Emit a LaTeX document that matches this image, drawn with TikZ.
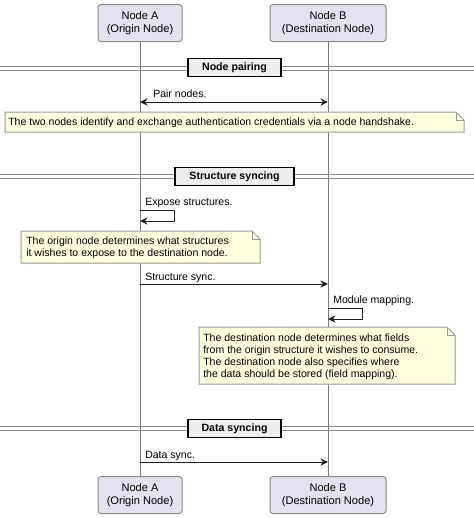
\documentclass[tikz,border=0pt]{standalone}
\usepackage{fontspec}
\setmainfont{Liberation Sans}
\usetikzlibrary{arrows.meta}
\definecolor{partfill}{HTML}{E2E2F0}
\definecolor{partborder}{HTML}{8C8C8C}
\definecolor{lifecol}{HTML}{7A7A7A}
\definecolor{notefill}{HTML}{FEFFDD}
\definecolor{noteborder}{HTML}{9A9A9A}
\definecolor{divfill}{HTML}{EEEEEE}
\definecolor{divline}{HTML}{8A8A8A}
\definecolor{msgcol}{HTML}{1E1E1E}
\begin{document}
\begin{tikzpicture}[x=0.75pt,y=-0.75pt,
  every node/.style={font=\fontsize{7.9}{9}\selectfont, inner sep=0pt, text=black},
  participant/.style={draw=partborder, fill=partfill, line width=0.75pt, rounded corners=2.25pt,
    minimum width=#1, minimum height=27.75pt, align=center, font=\fontsize{8.3}{9.75}\selectfont},
  lifeline/.style={draw=lifecol, line width=0.75pt},
  divrule/.style={draw=divline, line width=0.75pt},
  divbox/.style={draw=black, fill=divfill, line width=1.3pt, minimum width=#1, minimum height=13.5pt,
    font=\fontsize{7.95}{9}\selectfont\bfseries},
  notebody/.style={draw=noteborder, fill=notefill, line width=0.75pt, line join=miter},
  notefold/.style={draw=noteborder, line width=0.75pt},
  notetext/.style={anchor=north west, align=left},
  tipstyle/.style={},
  msg/.style={draw=msgcol, line width=0.75pt, -{Stealth[length=5.6pt,width=5.4pt,inset=1.8pt]}},
  msgboth/.style={draw=msgcol, line width=0.75pt, {Stealth[length=5.6pt,width=5.4pt,inset=1.8pt]}-{Stealth[length=5.6pt,width=5.4pt,inset=1.8pt]}},
  msglabel/.style={anchor=base west}
]
\fill[white] (0,0) rectangle (474,518);
\useasboundingbox (0,0) rectangle (474,518);

% participants
\node[participant=63pt] (At) at (140,23) {Node A\\(Origin Node)};
\node[participant=87pt] (Bt) at (328,23) {Node B\\(Destination Node)};
\node[participant=63pt] (Ab) at (140,495) {Node A\\(Origin Node)};
\node[participant=87pt] (Bb) at (328,495) {Node B\\(Destination Node)};

% lifelines
\draw[lifeline] (At.south) -- (Ab.north);
\draw[lifeline] (Bt.south) -- (Bb.north);

% divider: Node pairing
\draw[divrule] (0,66) -- (474,66);
\draw[divrule] (0,70) -- (474,70);
\node[divbox=69.75pt] (d1) at (234.5,67.5) {Node pairing};

% Pair nodes
\coordinate (a1) at (140,102);
\coordinate (b1) at (328,102);
\draw[msgboth] (a1) -- (b1);
\node[msglabel] (l1) at (153,97.5) {Pair nodes.};

% note 1
\draw[notebody] (5,112) -- (456,112) -- (464,120) -- (464,132) -- (5,132) -- cycle;
\draw[notefold] (456,112) -- (456,120) -- (464,120);
\node[notetext] (n1) at (8,117.5) {The two nodes identify and exchange authentication credentials via a node handshake.};

% divider: Structure syncing
\draw[divrule] (0,174.5) -- (474,174.5);
\draw[divrule] (0,178.5) -- (474,178.5);
\node[divbox=89.25pt] (d2) at (234.5,176.5) {Structure syncing};

% Expose structures (self)
\coordinate (a2) at (140,210);
\coordinate (a3) at (140,221);
\draw[msg] (a2) -- (174,210) -- (174,221) -- (a3);
\node[msglabel] (l2) at (145,205.5) {Expose structures.};

% note 2
\draw[notebody] (21,231) -- (252,231) -- (260,239) -- (260,263) -- (21,263) -- cycle;
\draw[notefold] (252,231) -- (252,239) -- (260,239);
\node[notetext] (n2) at (26,236.5) {The origin node determines what structures\\it wishes to expose to the destination node.};

% Structure sync
\coordinate (a4) at (140,284);
\coordinate (b4) at (328,284);
\draw[msg] (a4) -- (b4);
\node[msglabel] (l3) at (145,280.5) {Structure sync.};

% Module mapping (self)
\coordinate (b5) at (328,308);
\coordinate (b6) at (328,319);
\draw[msg] (b5) -- (362,308) -- (362,319) -- (b6);
\node[msglabel] (l4) at (333,303.5) {Module mapping.};

% note 3
\draw[notebody] (199,327) -- (447,327) -- (455,335) -- (455,384) -- (199,384) -- cycle;
\draw[notefold] (447,327) -- (447,335) -- (455,335);
\node[notetext] (n3) at (203,333.5) {The destination node determines what fields\\from the origin structure it wishes to consume.\\The destination node also specifies where\\the data should be stored (field mapping).};

% divider: Data syncing
\draw[divrule] (0,426.5) -- (474,426.5);
\draw[divrule] (0,430.5) -- (474,430.5);
\node[divbox=69.75pt] (d3) at (234.5,428.5) {Data syncing};

% Data sync
\coordinate (a7) at (140,462);
\coordinate (b7) at (328,462);
\draw[msg] (a7) -- (b7);
\node[msglabel] (l5) at (145,458.5) {Data sync.};
\end{tikzpicture}
\end{document}
